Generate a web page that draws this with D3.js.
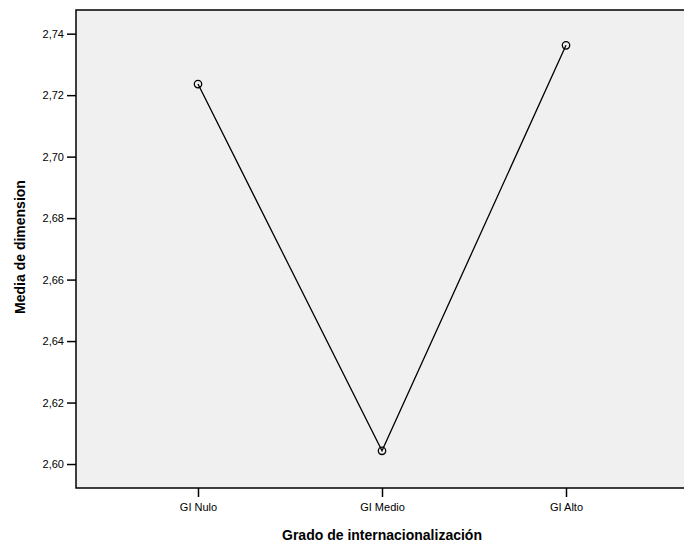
<!DOCTYPE html>
<html>
<head>
<meta charset="utf-8">
<script src="https://cdn.jsdelivr.net/npm/d3@7"></script>
<style>
  body { margin: 0; background: #fff; }
  svg { display: block; font-family: "Liberation Sans", Arial, sans-serif; }
</style>
</head>
<body>
<svg width="684" height="544"></svg>
<script>
// chart values
var categories = ["GI Nulo", "GI Medio", "GI Alto"];
var means = [2.7236, 2.6043, 2.7362];
var yTicks = [2.60, 2.62, 2.64, 2.66, 2.68, 2.70, 2.72, 2.74];

var width = 684;
var height = 544;
// plot frame (note: "top" is reserved on window, so use plot_*)
var plot_left = 76, plot_top = 10, plot_bottom = 488, plot_right = 688;

var svg = d3.select("svg");

var x = d3.scalePoint()
    .domain(categories)
    .range([plot_left, plot_right])
    .padding(0.663);

var y = d3.scaleLinear()
    .domain([2.5922, 2.7477])
    .range([plot_bottom, plot_top]);

var fmt = function(d) { return d3.format(".2f")(d).replace(".", ","); };

// plot background
svg.append("rect")
    .attr("x", plot_left).attr("y", plot_top)
    .attr("width", plot_right - plot_left).attr("height", plot_bottom - plot_top)
    .attr("fill", "#f0f0f0")
    .attr("stroke", "#000")
    .attr("stroke-width", 1.5);

// y axis
var yAxis = svg.append("g")
    .attr("transform", "translate(" + plot_left + ",0)")
    .call(d3.axisLeft(y).tickValues(yTicks).tickFormat(fmt).tickSize(9).tickPadding(3));
yAxis.select(".domain").remove();
yAxis.selectAll("line").attr("stroke", "#000").attr("stroke-width", 1.5);
yAxis.selectAll("text").attr("font-size", 11).attr("fill", "#000")
    .attr("font-family", "Liberation Sans, Arial, sans-serif");

// x axis
var xAxis = svg.append("g")
    .attr("transform", "translate(0," + plot_bottom + ")")
    .call(d3.axisBottom(x).tickSize(9).tickPadding(6));
xAxis.select(".domain").remove();
xAxis.selectAll("line").attr("stroke", "#000").attr("stroke-width", 1.5);
xAxis.selectAll("text").attr("font-size", 11).attr("fill", "#000")
    .attr("font-family", "Liberation Sans, Arial, sans-serif");

// line + markers
var pts = categories.map(function(c, i) { return { cat: c, v: means[i] }; });

svg.append("path")
    .datum(pts)
    .attr("fill", "none")
    .attr("stroke", "#000")
    .attr("stroke-width", 1.3)
    .attr("d", d3.line()
        .x(function(d) { return x(d.cat); })
        .y(function(d) { return y(d.v); }));

svg.selectAll("circle.pt")
    .data(pts)
    .enter().append("circle")
    .attr("class", "pt")
    .attr("cx", function(d) { return x(d.cat); })
    .attr("cy", function(d) { return y(d.v); })
    .attr("r", 3.7)
    .attr("fill", "none")
    .attr("stroke", "#000")
    .attr("stroke-width", 1.3);

// axis titles
svg.append("text")
    .attr("x", 382).attr("y", 540)
    .attr("text-anchor", "middle")
    .attr("font-size", 14).attr("font-weight", "bold")
    .text("Grado de internacionalización");

svg.append("text")
    .attr("transform", "translate(25," + 247 + ") rotate(-90)")
    .attr("text-anchor", "middle")
    .attr("font-size", 14).attr("font-weight", "bold")
    .text("Media de dimension");
</script>
</body>
</html>
